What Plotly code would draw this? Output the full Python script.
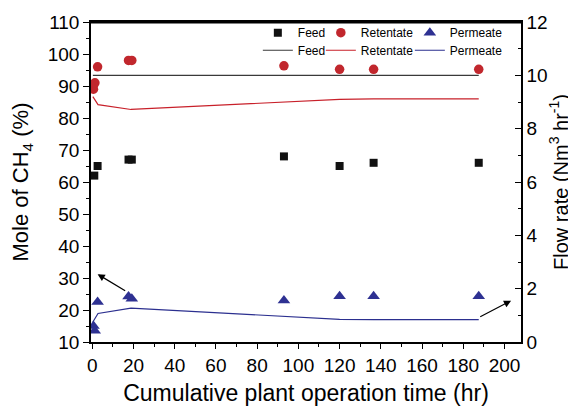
import plotly.graph_objects as go

# Marker data (left axis, mole % CH4)
t_feed = [1.0, 2.6, 17.6, 19.2, 93, 120, 136.5, 187.5]
feed_mol = [62, 65, 67, 67, 68, 65, 66, 66]

t_ret = [0.6, 1.3, 2.6, 17.6, 19.2, 93, 120, 136.5, 187.5]
ret_mol = [89, 91, 96, 98, 98, 96.3, 95.2, 95.2, 95.2]

t_perm = [0.6, 1.2, 2.6, 17.6, 19.2, 93, 120, 136.5, 187.5]
perm_mol = [15, 13.5, 22.5, 24.2, 23.5, 23, 24.3, 24.3, 24.3]

# Line data (right axis, flow rate Nm3/hr)
t_flow = [0.3, 2.8, 18.8, 93, 120, 136.5, 187.5]
feed_flow = [10, 10, 10, 10, 10, 10, 10]
ret_flow = [9.2, 8.9, 8.72, 9.0, 9.1, 9.12, 9.12]
perm_flow = [0.75, 1.07, 1.27, 0.97, 0.85, 0.84, 0.84]

FONT = "Arial, Liberation Sans, sans-serif"
BLUE = "#2e3192"

fig = go.Figure()

fig.add_trace(go.Scatter(x=t_feed, y=feed_mol, mode="markers", name="Feed",
                         marker=dict(symbol="square", size=8, color="#111111"),
                         legend="legend", legendwidth=18))
fig.add_trace(go.Scatter(x=t_ret, y=ret_mol, mode="markers", name="Retentate",
                         marker=dict(symbol="circle", size=9.5, color="#c1272d"),
                         legend="legend", legendwidth=44))
fig.add_trace(go.Scatter(x=t_perm, y=perm_mol, mode="markers", name="Permeate",
                         marker=dict(symbol="triangle-up", size=11, color=BLUE),
                         legend="legend"))

fig.add_trace(go.Scatter(x=t_flow, y=feed_flow, mode="lines", name="Feed", yaxis="y2",
                         line=dict(color="#3a3a3a", width=1.2),
                         legend="legend2", legendwidth=18))
fig.add_trace(go.Scatter(x=t_flow, y=ret_flow, mode="lines", name="Retentate", yaxis="y2",
                         line=dict(color="#c8202a", width=1.2),
                         legend="legend2", legendwidth=44))
fig.add_trace(go.Scatter(x=t_flow, y=perm_flow, mode="lines", name="Permeate", yaxis="y2",
                         line=dict(color="#2b2f8f", width=1.2),
                         legend="legend2"))

# page body has an 8px default margin, so the figure is sized to fit the window
fig.update_layout(
    width=568, height=402,
    margin=dict(l=83, r=55, t=14, b=68, autoexpand=False),
    paper_bgcolor="white", plot_bgcolor="white",
    font=dict(family=FONT, color="black"),
    showlegend=True,
    legend=dict(orientation="h", x=0.388, y=1.012, xanchor="left", yanchor="top",
                bgcolor="rgba(0,0,0,0)", font=dict(size=12, family=FONT)),
    legend2=dict(orientation="h", x=0.388, y=0.957, xanchor="left", yanchor="top",
                 bgcolor="rgba(0,0,0,0)", font=dict(size=12, family=FONT)),
    xaxis=dict(range=[-0.6, 208], tickmode="linear", tick0=0, dtick=20,
               automargin=False,
               ticks="outside", ticklen=5, tickwidth=1.2, tickcolor="black",
               minor=dict(ticks="outside", ticklen=3, dtick=10, tickcolor="black", tickwidth=1.2),
               showline=True, linecolor="black", linewidth=1.5, mirror=True,
               showgrid=False, zeroline=False,
               tickfont=dict(size=19, family=FONT),
               title=dict(text="Cumulative plant operation time (hr)",
                          font=dict(size=23, family=FONT), standoff=10)),
    yaxis=dict(range=[10, 110], tickmode="linear", tick0=10, dtick=10,
               automargin=False,
               ticks="outside", ticklen=6, tickwidth=1.2, tickcolor="black",
               minor=dict(ticks="outside", ticklen=3, dtick=5, tickcolor="black", tickwidth=1.2),
               showline=True, linecolor="black", linewidth=1.5,
               showgrid=False, zeroline=False,
               tickfont=dict(size=19, family=FONT),
               title=dict(text="Mole of CH<sub>4</sub> (%)",
                          font=dict(size=22, family=FONT), standoff=22)),
    yaxis2=dict(range=[0, 12], overlaying="y", side="right", tickmode="linear",
                tick0=0, dtick=2, automargin=False,
                ticks="inside", ticklen=6, tickwidth=1.2, tickcolor="black",
                minor=dict(ticks="inside", ticklen=3, dtick=1, tickcolor="black", tickwidth=1.2),
                showline=True, linecolor="black", linewidth=1.5,
                showgrid=False, zeroline=False,
                tickfont=dict(size=19, family=FONT),
                title=dict(text="Flow rate (Nm<sup>3</sup> hr<sup>-1</sup>)",
                           font=dict(size=20, family=FONT), standoff=7)),
)

fig.add_shape(type="line", xref="paper", yref="paper", x0=0, x1=1, y0=1, y1=1,
              line=dict(color="black", width=3))

fig.add_annotation(x=2.6, y=31.2, ax=16.7, ay=25.7, xref="x", yref="y",
                   axref="x", ayref="y", text="", showarrow=True,
                   arrowhead=2, arrowsize=1.2, arrowwidth=1.2, arrowcolor="black")
fig.add_annotation(x=203.2, y=1.55, ax=187.5, ay=0.92, xref="x", yref="y2",
                   axref="x", ayref="y2", text="", showarrow=True,
                   arrowhead=2, arrowsize=1.2, arrowwidth=1.2, arrowcolor="black")

fig.write_html("out.html")
